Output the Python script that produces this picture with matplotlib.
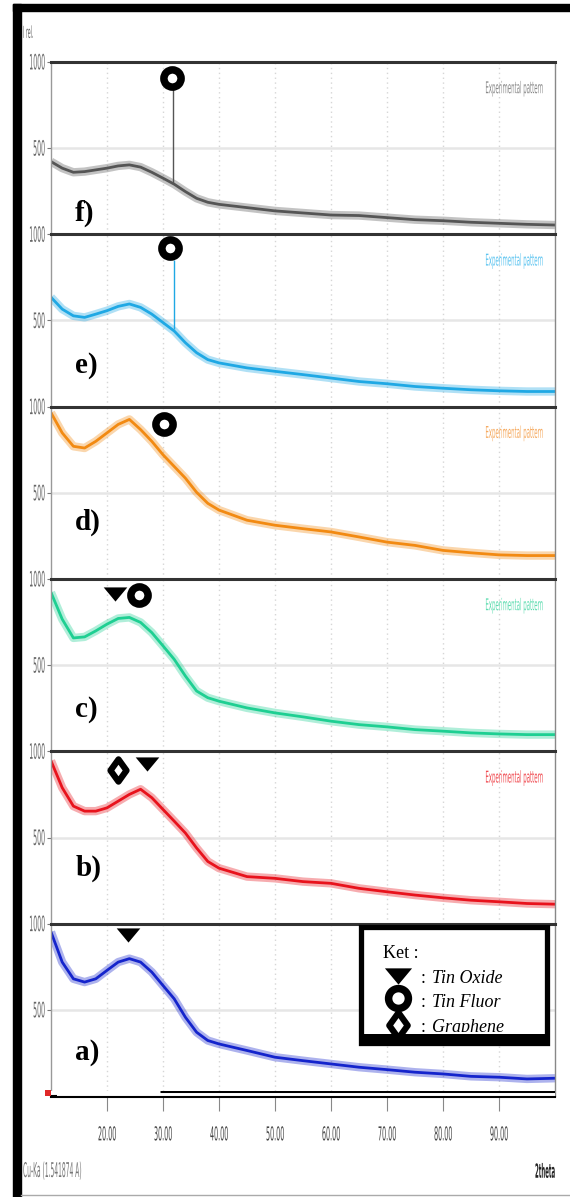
import matplotlib.pyplot as plt
from matplotlib.path import Path
from matplotlib.patches import Rectangle
from matplotlib.patheffects import AbstractPathEffect
from matplotlib.transforms import Affine2D

# 2theta positions (deg) and relative intensities
two_theta = [10, 12, 14, 16, 18, 20, 22, 24, 26, 28, 30, 32, 34, 36, 38, 40,
             45, 50, 55, 60, 65, 70, 75, 80, 85, 90, 95, 100]

int_f = [422, 384, 360, 364, 374, 384, 397, 403, 390, 360, 326, 291, 248, 209, 186, 174,
         155, 136, 124, 112, 109, 97, 85, 79, 70, 64, 58, 54]
int_e = [635, 566, 527, 518, 537, 557, 582, 596, 576, 537, 488, 439, 371, 313, 273, 254,
         225, 205, 186, 166, 146, 133, 117, 107, 98, 92, 88, 88]
int_d = [965, 848, 770, 760, 799, 848, 897, 926, 867, 799, 721, 653, 585, 503, 439, 400,
         341, 312, 292, 273, 244, 214, 195, 166, 152, 140, 136, 136]
int_c = [922, 767, 658, 664, 699, 738, 771, 777, 748, 689, 612, 534, 437, 350, 311, 291,
         252, 223, 200, 175, 155, 142, 126, 117, 107, 101, 97, 97]
int_b = [945, 789, 682, 653, 653, 672, 711, 750, 780, 731, 663, 595, 526, 439, 361, 322,
         273, 263, 244, 234, 205, 185, 166, 150, 136, 127, 117, 113]
int_a = [952, 777, 680, 661, 680, 729, 777, 797, 777, 719, 641, 564, 457, 370, 322, 302,
         264, 225, 205, 186, 167, 153, 138, 128, 114, 109, 99, 103]

panel_names = ["f)", "e)", "d)", "c)", "b)", "a)"]
panel_data = [int_f, int_e, int_d, int_c, int_b, int_a]
panel_colors = ["#555555", "#1fa8e4", "#f28a12", "#1ecf92", "#e8121c", "#1424cc"]
text_colors = ["#8a8a8a", "#5cc4f0", "#f6aa60", "#5edcb0", "#f04a50", "#6070e0"]
label_pos = [0.12, 0.24, 0.33, 0.24, 0.32, 0.25]

# sharp reflections (f and e): position, base, top
peak_x = [31.8, 31.9]
peak_base = [300, 450]
peak_top = [880, 850]

# phase markers per panel: (kind, 2theta, intensity)
markers_f = [("o", 31.6, 907)]
markers_e = [("o", 31.2, 918)]
markers_d = [("o", 30.1, 897)]
markers_c = [("v", 21.5, 913), ("o", 25.7, 907)]
markers_b = [("d", 22.0, 891), ("v", 27.2, 926)]
markers_a = [("v", 23.8, 932)]
panel_markers = [markers_f, markers_e, markers_d, markers_c, markers_b, markers_a]

x_ticks = [20, 30, 40, 50, 60, 70, 80, 90]
legend_names = ["Tin Oxide", "Tin Fluor", "Graphene"]

W, H = 570, 1197
SERIF = ["Liberation Serif", "DejaVu Serif"]

TRI = Path([(-1, 0.6), (1, 0.6), (0, -0.6), (-1, 0.6)],
           [Path.MOVETO, Path.LINETO, Path.LINETO, Path.CLOSEPOLY])
DIA = Path([(0, 1), (0.72, 0), (0, -1), (-0.72, 0), (0, 1)],
           [Path.MOVETO, Path.LINETO, Path.LINETO, Path.LINETO, Path.CLOSEPOLY])


class Tall(AbstractPathEffect):
    # the scan software text is squeezed sideways; stretch glyphs up about their middle
    def __init__(self, sy=3.0):
        super().__init__()
        self.sy = sy

    def draw_path(self, renderer, gc, tpath, affine, rgbFace=None):
        ext = tpath.get_extents()
        cy = (ext.y0 + ext.y1) / 2
        st = Affine2D().translate(0, -cy).scale(1, self.sy).translate(0, cy)
        renderer.draw_path(gc, tpath, st + affine, rgbFace)


def rect(left, top, width, height):
    return [left / W, 1 - (top + height) / H, width / W, height / H]


def draw_marker(ax, kind, x, y, scale=1.0):
    if kind == "v":
        ax.plot(x, y, marker=TRI, ms=17 * scale, color="black", mew=0, clip_on=False, zorder=6)
    elif kind == "o":
        ax.plot(x, y, marker="o", ms=12.4 * scale, mfc="white", mec="black", mew=5.4,
                clip_on=False, zorder=6)
    else:
        ax.plot(x, y, marker=DIA, ms=16 * scale, mfc="white", mec="black", mew=4.5,
                clip_on=False, zorder=6)


fig = plt.figure(figsize=(W / 100, H / 100), dpi=100)

top0, ph = 62, (1096 - 62) / 6
for i in range(6):
    ax = fig.add_axes(rect(51, top0 + i * ph, 504, ph))
    col = panel_colors[i]
    ax.set_xlim(10, 100)
    ax.set_ylim(0, 1000)

    ax.set_xticks(x_ticks)
    ax.tick_params(axis="x", length=0, labelbottom=False)
    ax.grid(axis="x", color="#d6d6d6", lw=1, linestyle=(0, (1, 2.5)))
    ax.axhline(500, color="#e6e6e6", lw=1.8, zorder=0)

    ax.set_yticks([500, 1000])
    ax.set_yticklabels(["500", "1000"], fontsize=4.5, color="#666666")
    ax.tick_params(axis="y", length=3, color="#777777", pad=1.5)
    for t in ax.get_yticklabels():
        t.set_path_effects([Tall(3.4)])

    for s in ax.spines.values():
        s.set_linewidth(1)
    ax.spines["top"].set_color("#333333")
    ax.spines["top"].set_linewidth(2.2)
    ax.spines["left"].set_color("#999999")
    ax.spines["right"].set_color("#888888")
    ax.spines["bottom"].set_visible(False)

    y = panel_data[i]
    ax.plot(two_theta, y, color=col, lw=6, alpha=0.35, solid_joinstyle="round",
            solid_capstyle="butt")
    ax.plot(two_theta, y, color=col, lw=2, solid_joinstyle="round")
    if i < 2:
        ax.vlines(peak_x[i], peak_base[i], peak_top[i], color=col, lw=1)

    ex = ax.text(0.976, 0.845, "Experimental pattern", transform=ax.transAxes, ha="right",
                 va="center", fontsize=3.9, color=text_colors[i])
    ex.set_path_effects([Tall(3.0)])
    ax.text(0.048, label_pos[i], panel_names[i], transform=ax.transAxes, ha="left",
            va="center", fontsize=21, fontweight="bold", family=SERIF)

    for kind, mx, my in panel_markers[i]:
        draw_marker(ax, kind, mx, my)

# bottom 2theta axis (double rule on the right, single on the left)
base = fig.add_axes(rect(51, 1091, 504, 6))
base.set_xlim(10, 100)
base.set_ylim(0, 1)
base.set_yticks([])
for s in ["top", "left", "right"]:
    base.spines[s].set_visible(False)
base.spines["bottom"].set_linewidth(1.5)
base.hlines(1, 29.5, 100, color="black", lw=2.2)
base.hlines(0.2, 10, 11, color="black", lw=1.5)
base.plot(9.4, 0.6, "s", color="#e02828", ms=4.5, mew=0, clip_on=False)
base.set_xticks(x_ticks)
base.set_xticklabels([f"{t:.2f}" for t in x_ticks], fontsize=4.6, color="#444444")
base.tick_params(axis="x", length=10, color="#888888", pad=15)
for t in base.get_xticklabels():
    t.set_path_effects([Tall(3.0)])

# legend box
lg = fig.add_axes(rect(361, 927, 186, 116))
lg.set_xlim(0, 186)
lg.set_ylim(116, 0)
lg.axis("off")
lg.add_patch(Rectangle((0, 0), 186, 116, facecolor="white", edgecolor="black", lw=3.8,
                       clip_on=False))
lg.add_patch(Rectangle((0, 107), 186, 9, facecolor="black", lw=0, clip_on=False))
clip = Rectangle((0, 0), 186, 104.5, transform=lg.transData)
lg.text(22, 31, "Ket :", fontsize=13, family=SERIF, va="baseline")
for kind, yy in zip(["v", "o", "d"], [49, 71, 98]):
    draw_marker(lg, kind, 37, yy, scale=1.15)
for name, yb in zip(legend_names, [56, 80, 105]):
    t1 = lg.text(60, yb, ":", fontsize=13, family=SERIF, va="baseline")
    t2 = lg.text(71, yb, name, fontsize=13, family=SERIF, style="italic", va="baseline")
    for t in (t1, t2):
        t.set_clip_path(clip)
        t.set_clip_on(True)

# surrounding frame and captions
fig.add_artist(Rectangle((13 / W, 0), 8 / W, 1 - 4 / H, transform=fig.transFigure,
                         color="black"))
fig.add_artist(Rectangle((13 / W, 1 - 11 / H), 1 - 13 / W, 7 / H, transform=fig.transFigure,
                         color="black"))
fig.add_artist(plt.Line2D([21 / W, 1], [1 - 1195 / H] * 2, transform=fig.transFigure,
                          color="#aaaaaa", lw=1))
t = fig.text(23 / W, 1 - 32 / H, "I rel.", fontsize=3.4, color="#666666", va="center")
t.set_path_effects([Tall(3.5)])
t = fig.text(23 / W, 1 - 1171 / H, "Cu-Ka (1.541874 A)", fontsize=4.3, color="#777777",
             va="center")
t.set_path_effects([Tall(3.4)])
t = fig.text(555 / W, 1 - 1171 / H, "2theta", fontsize=3.9, fontweight="bold",
             color="#222222", va="center", ha="right")
t.set_path_effects([Tall(3.6)])

fig.savefig("out.png", dpi=100)
